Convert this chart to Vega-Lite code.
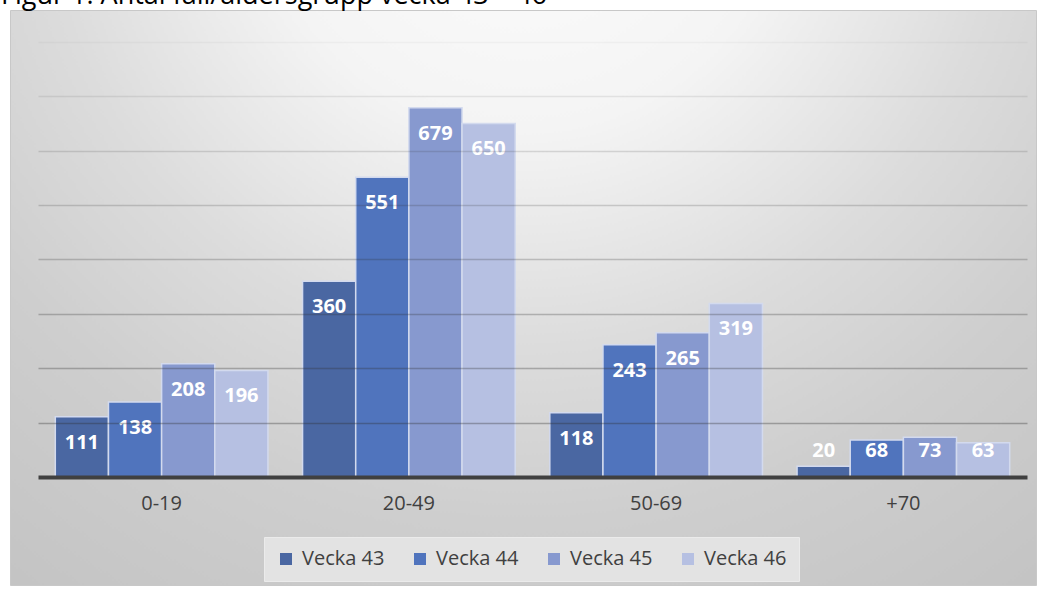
{
  "$schema": "https://vega.github.io/schema/vega-lite/v6.json",
  "width": 1026,
  "height": 575,
  "autosize": {"type": "none"},
  "padding": {"left": 10, "top": 10, "right": 6, "bottom": 6},
  "background": "#ffffff",
  "title": {
    "text": "Figur 1: Antal fall/åldersgrupp vecka 43 – 46",
    "anchor": "start",
    "frame": "group",
    "offset": 0,
    "dx": -9,
    "font": "Open Sans",
    "fontSize": 27,
    "fontWeight": "normal",
    "color": "#000000"
  },
  "view": {
    "stroke": "#c8c8c8",
    "strokeWidth": 1,
    "fill": {
      "gradient": "radial",
      "x1": 0.5, "y1": 0.08, "r1": 0,
      "x2": 0.5, "y2": 0.08, "r2": 0.85,
      "stops": [
        {"offset": 0, "color": "#fdfdfd"},
        {"offset": 0.3, "color": "#f4f4f4"},
        {"offset": 0.55, "color": "#dcdcdc"},
        {"offset": 0.75, "color": "#cecece"},
        {"offset": 1, "color": "#c4c4c4"}
      ]
    }
  },
  "data": {
    "values": [
      {"age": "0-19", "week": "Vecka 43", "value": 111},
      {"age": "0-19", "week": "Vecka 44", "value": 138},
      {"age": "0-19", "week": "Vecka 45", "value": 208},
      {"age": "0-19", "week": "Vecka 46", "value": 196},
      {"age": "20-49", "week": "Vecka 43", "value": 360},
      {"age": "20-49", "week": "Vecka 44", "value": 551},
      {"age": "20-49", "week": "Vecka 45", "value": 679},
      {"age": "20-49", "week": "Vecka 46", "value": 650},
      {"age": "50-69", "week": "Vecka 43", "value": 118},
      {"age": "50-69", "week": "Vecka 44", "value": 243},
      {"age": "50-69", "week": "Vecka 45", "value": 265},
      {"age": "50-69", "week": "Vecka 46", "value": 319},
      {"age": "+70", "week": "Vecka 43", "value": 20},
      {"age": "+70", "week": "Vecka 44", "value": 68},
      {"age": "+70", "week": "Vecka 45", "value": 73},
      {"age": "+70", "week": "Vecka 46", "value": 63}
    ]
  },
  "encoding": {
    "x": {
      "field": "age",
      "type": "nominal",
      "sort": ["0-19", "20-49", "50-69", "+70"],
      "scale": {"range": [28, 1017], "paddingInner": 0.14, "paddingOuter": 0.07},
      "axis": {
        "orient": "bottom",
        "offset": -108,
        "title": null,
        "ticks": false,
        "grid": false,
        "labelAngle": 0,
        "labelFont": "Open Sans",
        "labelFontSize": 20,
        "labelColor": "#404040",
        "labelPadding": 16,
        "domainColor": "#404040",
        "domainWidth": 4,
        "zindex": 1
      }
    },
    "xOffset": {
      "field": "week",
      "type": "nominal",
      "sort": ["Vecka 43", "Vecka 44", "Vecka 45", "Vecka 46"],
      "scale": {"paddingInner": 0, "paddingOuter": 0}
    }
  },
  "layer": [
    {
      "mark": {"type": "bar", "stroke": "#d3daee", "strokeWidth": 1.5},
      "encoding": {
        "y": {
          "field": "value",
          "type": "quantitative",
          "stack": null,
          "scale": {"domain": [-198.5, 858.5], "nice": false, "zero": false},
          "axis": {
            "orient": "left",
            "title": null,
            "labels": false,
            "ticks": false,
            "domain": false,
            "grid": true,
            "values": [100, 200, 300, 400, 500, 600, 700, 800],
            "zindex": 1,
            "gridColor": "#303030",
            "gridWidth": 1.5,
            "gridOpacity": {
              "condition": [
                {"test": "datum.value >= 800", "value": 0.04},
                {"test": "datum.value >= 700", "value": 0.1},
                {"test": "datum.value >= 600", "value": 0.16},
                {"test": "datum.value >= 500", "value": 0.2},
                {"test": "datum.value >= 400", "value": 0.24},
                {"test": "datum.value >= 300", "value": 0.28},
                {"test": "datum.value >= 200", "value": 0.31}
              ],
              "value": 0.34
            },
            "encode": {
              "grid": {
                "update": {
                  "x": {"value": 28},
                  "x2": {"value": 1020}
                }
              }
            }
          }
        },
        "y2": {"datum": 0},
        "color": {
          "field": "week",
          "type": "nominal",
          "scale": {
            "domain": ["Vecka 43", "Vecka 44", "Vecka 45", "Vecka 46"],
            "range": ["#4a67a2", "#5074bd", "#8799cf", "#b6c0e2"]
          },
          "legend": {
            "orient": "none",
            "legendX": 254,
            "legendY": 527,
            "direction": "horizontal",
            "title": null,
            "symbolType": "square",
            "symbolSize": 144,
            "symbolStrokeWidth": 0,
            "labelFont": "Open Sans",
            "labelFontSize": 20,
            "labelColor": "#404040",
            "labelOffset": 6,
            "columnPadding": 25,
            "padding": 12,
            "fillColor": "#e3e3e3",
            "strokeColor": "#ebebeb"
          }
        }
      }
    },
    {
      "transform": [{"calculate": "max(datum.value, 96)", "as": "labelY"}],
      "mark": {
        "type": "text",
        "baseline": "middle",
        "align": "center",
        "dy": 26,
        "font": "Open Sans",
        "fontWeight": "bold",
        "fontSize": 20,
        "color": "#ffffff"
      },
      "encoding": {
        "y": {"field": "labelY", "type": "quantitative"},
        "text": {"field": "value", "type": "quantitative"}
      }
    }
  ]
}
